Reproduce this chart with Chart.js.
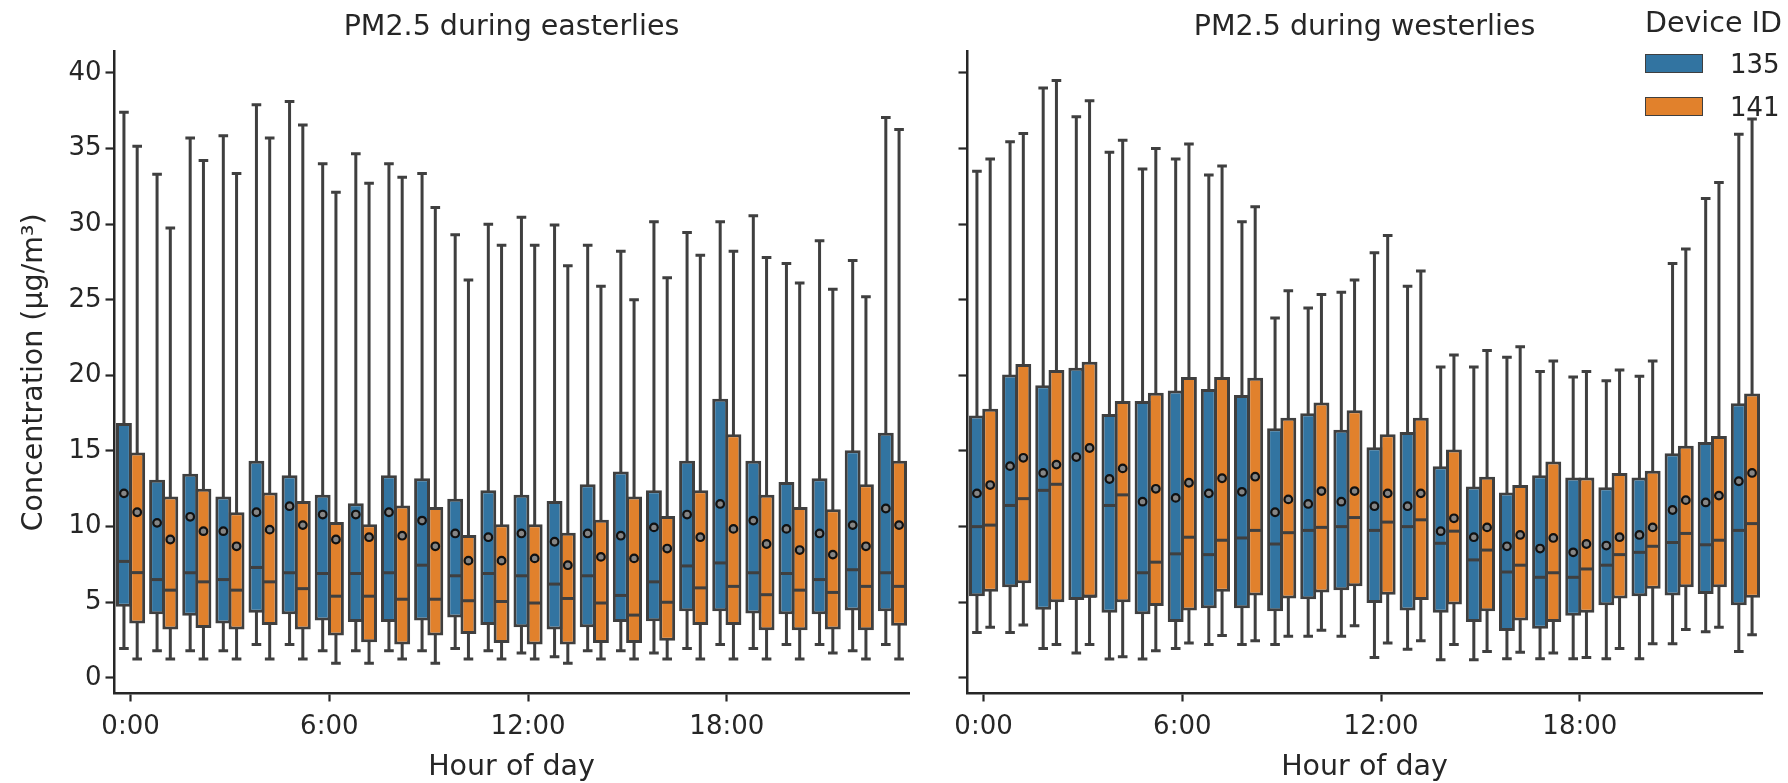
<!DOCTYPE html>
<html>
<head>
<meta charset="utf-8">
<script src="https://cdn.jsdelivr.net/npm/chart.js@4.4.1/dist/chart.umd.min.js"></script>
<style>
  body { margin: 0; background: #fff; }
  #wrap { position: relative; width: 1788px; height: 783px; font-family: 'DejaVu Sans', sans-serif; color: #262626; }
  canvas { position: absolute; top: 0; }
  #east { left: 0; }
  #west { left: 940px; }
  .lg { position: absolute; line-height: 1; white-space: nowrap; }
  .patch { position: absolute; left: 1645px; width: 58px; height: 19px; box-sizing: border-box; border: 1.5px solid #3f3f3f; }
</style>
</head>
<body>
<div id="wrap">
  <canvas id="east" width="940" height="783"></canvas>
  <canvas id="west" width="848" height="783"></canvas>
  <div class="lg" style="left:1645px;top:9px;font-size:28.5px">Device ID</div>
  <div class="patch" style="top:54px;background:#3274a1"></div>
  <div class="lg" style="left:1730px;top:51px;font-size:26px">135</div>
  <div class="patch" style="top:97px;background:#e1812c"></div>
  <div class="lg" style="left:1730px;top:94px;font-size:26px">141</div>
</div>
<script>
const hourLabels = ['0:00', '1:00', '2:00', '3:00', '4:00', '5:00', '6:00', '7:00', '8:00', '9:00', '10:00', '11:00',
  '12:00', '13:00', '14:00', '15:00', '16:00', '17:00', '18:00', '19:00', '20:00', '21:00', '22:00', '23:00'];
const labelHours = [0, 6, 12, 18];
const yTicks = [0, 5, 10, 15, 20, 25, 30, 35, 40];

// easterlies, device 135
const east135High = [37.4, 33.3, 35.7, 35.85, 37.9, 38.1, 34.0, 34.65, 34.0, 33.35, 29.3, 30.0, 30.45, 29.95, 28.6, 28.2, 30.15, 29.45, 30.15, 30.55, 27.4, 28.9, 27.6, 37.05];
const east135Q3 = [16.85, 13.1, 13.5, 12.0, 14.35, 13.4, 12.1, 11.55, 13.4, 13.2, 11.85, 12.4, 12.1, 11.7, 12.8, 13.65, 12.4, 14.35, 18.45, 14.35, 12.95, 13.2, 15.05, 16.2];
const east135Median = [7.7, 6.5, 6.95, 6.5, 7.3, 6.95, 6.9, 6.9, 6.95, 7.45, 6.75, 6.9, 6.75, 6.2, 6.75, 5.45, 6.35, 7.4, 7.6, 6.95, 6.9, 6.5, 7.15, 6.95];
const east135Mean = [12.2, 10.25, 10.65, 9.7, 10.95, 11.35, 10.8, 10.8, 10.95, 10.4, 9.55, 9.3, 9.55, 9.0, 9.55, 9.4, 9.95, 10.8, 11.5, 10.4, 9.85, 9.55, 10.1, 11.2];
const east135Q1 = [4.7, 4.2, 4.1, 3.6, 4.3, 4.2, 3.8, 3.7, 3.7, 3.8, 4.0, 3.5, 3.35, 3.2, 3.35, 3.7, 3.75, 4.4, 4.4, 4.25, 4.2, 4.2, 4.45, 4.4];
const east135Low = [1.95, 1.8, 1.8, 1.8, 2.2, 2.2, 1.8, 1.8, 1.8, 1.8, 1.95, 1.8, 1.65, 1.4, 1.8, 1.8, 1.65, 1.95, 2.2, 1.95, 2.2, 2.2, 1.8, 2.2];

// easterlies, device 141
const east141High = [35.15, 29.75, 34.2, 33.35, 35.7, 36.55, 32.1, 32.7, 33.1, 31.1, 26.3, 28.6, 28.6, 27.25, 25.9, 25.0, 26.45, 27.95, 28.2, 27.8, 26.1, 25.7, 25.2, 36.25];
const east141Q3 = [14.9, 12.0, 12.5, 10.95, 12.25, 11.7, 10.3, 10.15, 11.4, 11.3, 9.45, 10.15, 10.15, 9.6, 10.45, 12.0, 10.7, 12.4, 16.1, 12.1, 11.3, 11.15, 12.8, 14.35];
const east141Median = [6.96, 5.8, 6.35, 5.8, 6.35, 5.9, 5.4, 5.4, 5.2, 5.2, 5.1, 5.05, 4.95, 5.25, 4.95, 4.15, 5.0, 5.95, 6.05, 5.5, 5.8, 5.65, 6.05, 6.05];
const east141Mean = [10.95, 9.15, 9.7, 8.7, 9.8, 10.1, 9.15, 9.3, 9.4, 8.7, 7.75, 7.75, 7.9, 7.45, 8.0, 7.9, 8.55, 9.3, 9.85, 8.85, 8.45, 8.15, 8.7, 10.1];
const east141Q1 = [3.6, 3.2, 3.3, 3.2, 3.5, 3.2, 2.8, 2.35, 2.2, 2.8, 2.9, 2.3, 2.2, 2.2, 2.3, 2.3, 2.45, 3.5, 3.5, 3.15, 3.15, 3.2, 3.15, 3.45];
const east141Low = [1.25, 1.25, 1.25, 1.25, 1.25, 1.25, 0.97, 0.97, 1.25, 0.97, 1.25, 1.25, 1.25, 0.97, 1.25, 1.25, 1.25, 1.25, 1.25, 1.25, 1.25, 1.65, 1.25, 1.25];

// westerlies, device 135
const west135High = [33.5, 35.45, 39.0, 37.1, 34.75, 33.65, 34.3, 33.25, 30.15, 23.8, 24.45, 25.5, 28.1, 25.9, 20.55, 20.55, 21.2, 20.25, 19.9, 19.65, 19.95, 27.4, 31.7, 35.95];
const west135Q3 = [17.35, 20.05, 19.35, 20.5, 17.45, 18.3, 19.0, 19.1, 18.7, 16.5, 17.5, 16.4, 15.25, 16.25, 14.0, 12.65, 12.25, 13.4, 13.25, 12.6, 13.25, 14.85, 15.6, 18.15];
const west135Median = [10.0, 11.4, 12.4, 5.25, 11.4, 6.95, 8.2, 8.15, 9.25, 8.85, 9.75, 10.0, 9.75, 10.0, 8.9, 7.8, 7.0, 6.65, 6.65, 7.45, 8.3, 8.95, 8.8, 9.75];
const west135Mean = [12.2, 14.0, 13.55, 14.6, 13.15, 11.65, 11.9, 12.2, 12.3, 10.95, 11.5, 11.65, 11.35, 11.35, 9.7, 9.3, 8.7, 8.55, 8.3, 8.75, 9.45, 11.1, 11.6, 13.0];
const west135Q1 = [5.4, 6.0, 4.5, 5.15, 4.3, 4.2, 3.7, 4.6, 4.6, 4.4, 5.2, 5.8, 4.95, 4.45, 4.3, 3.7, 3.1, 3.25, 4.1, 4.8, 5.4, 5.45, 5.55, 4.8];
const west135Low = [3.0, 3.0, 1.95, 1.65, 1.25, 1.25, 1.95, 2.2, 2.2, 2.2, 2.75, 2.75, 1.35, 1.9, 1.2, 1.2, 1.27, 1.27, 1.27, 1.27, 1.27, 2.25, 3.05, 1.75];

// westerlies, device 141
const west141High = [34.3, 36.0, 39.5, 38.15, 35.55, 35.0, 35.3, 33.85, 31.15, 25.6, 25.35, 26.3, 29.25, 26.9, 21.35, 21.65, 21.9, 20.95, 20.25, 20.35, 20.95, 28.35, 32.75, 36.95];
const west141Q3 = [17.8, 20.75, 20.35, 20.9, 18.3, 18.85, 19.9, 19.9, 19.85, 17.2, 18.2, 17.7, 16.1, 17.2, 15.1, 13.3, 12.75, 14.3, 13.25, 13.55, 13.7, 15.35, 16.0, 18.8];
const west141Median = [10.1, 11.85, 12.8, 5.4, 12.1, 7.65, 9.3, 9.1, 9.75, 9.6, 9.95, 10.6, 10.3, 10.45, 9.7, 8.45, 7.45, 6.95, 7.2, 8.15, 8.7, 9.55, 9.1, 10.2];
const west141Mean = [12.75, 14.55, 14.1, 15.2, 13.85, 12.5, 12.9, 13.2, 13.3, 11.8, 12.35, 12.35, 12.2, 12.2, 10.55, 9.95, 9.45, 9.25, 8.85, 9.3, 9.95, 11.75, 12.05, 13.55];
const west141Q1 = [5.7, 6.25, 5.0, 5.3, 5.0, 4.75, 4.45, 5.7, 5.45, 5.25, 5.65, 6.05, 5.5, 5.15, 4.85, 4.4, 3.8, 3.7, 4.3, 5.25, 5.9, 6.0, 6.0, 5.3];
const west141Low = [3.35, 3.5, 2.2, 2.2, 1.4, 1.8, 2.3, 2.8, 2.45, 2.75, 3.15, 3.45, 2.3, 2.45, 2.2, 1.75, 1.7, 1.65, 1.35, 1.95, 2.25, 3.2, 3.35, 2.85];

const BLUE = '#3274a1';
const ORANGE = '#e1812c';
const EDGE = '#3f3f3f';
const AXIS = '#262626';
const TEXT = '#262626';
const LINE_W = 3;

Chart.defaults.font.family = "'DejaVu Sans', sans-serif";

// whiskers, caps, medians and means on top of the q1-q3 bars
const boxExtras = {
  id: 'boxExtras',
  afterDatasetsDraw(chart) {
    const ctx = chart.ctx;
    const x = chart.scales.x;
    const y = chart.scales.y;
    const capHalf = (x.getPixelForValue(1) - x.getPixelForValue(0)) * 0.1;
    ctx.save();
    chart.data.datasets.forEach((ds, i) => {
      const meta = chart.getDatasetMeta(i);
      meta.data.forEach((bar, j) => {
        const cx = bar.x;
        const half = bar.width / 2 - LINE_W / 2;
        const yHigh = y.getPixelForValue(ds.high[j]);
        const yLow = y.getPixelForValue(ds.low[j]);
        ctx.strokeStyle = EDGE;
        ctx.lineWidth = LINE_W;
        ctx.lineCap = 'square';
        ctx.beginPath();
        ctx.moveTo(cx, y.getPixelForValue(ds.q3[j]));
        ctx.lineTo(cx, yHigh);
        ctx.moveTo(cx, y.getPixelForValue(ds.q1[j]));
        ctx.lineTo(cx, yLow);
        ctx.moveTo(cx - capHalf, yHigh);
        ctx.lineTo(cx + capHalf, yHigh);
        ctx.moveTo(cx - capHalf, yLow);
        ctx.lineTo(cx + capHalf, yLow);
        ctx.stroke();

        const yMed = y.getPixelForValue(ds.median[j]);
        ctx.lineCap = 'butt';
        ctx.beginPath();
        ctx.moveTo(cx - half, yMed);
        ctx.lineTo(cx + half, yMed);
        ctx.stroke();

        ctx.beginPath();
        ctx.arc(cx, y.getPixelForValue(ds.mean[j]), 3.8, 0, Math.PI * 2);
        ctx.fillStyle = '#858585';
        ctx.fill();
        ctx.lineWidth = 2.2;
        ctx.strokeStyle = '#111';
        ctx.stroke();
      });
    });
    ctx.restore();
  }
};

function makeChart(id, title, series, showY, yWidth, rightPad) {
  return new Chart(document.getElementById(id), {
    type: 'bar',
    data: {
      labels: hourLabels,
      datasets: series.map(s => ({
        label: s.label,
        data: s.q1.map((v, j) => [v, s.q3[j]]),
        backgroundColor: s.color,
        borderColor: EDGE,
        borderWidth: LINE_W,
        borderSkipped: false,
        categoryPercentage: 0.8,
        barPercentage: 1.2,
        low: s.low, q1: s.q1, median: s.median, q3: s.q3, high: s.high, mean: s.mean
      }))
    },
    options: {
      responsive: false,
      animation: false,
      layout: { padding: { left: 0, right: rightPad, top: 0, bottom: 0 } },
      plugins: {
        legend: { display: false },
        tooltip: { enabled: false },
        title: {
          display: true, text: title, fullSize: false, color: TEXT,
          font: { size: 28.5, weight: 'normal' },
          padding: { top: 10.5, bottom: 7 }
        }
      },
      scales: {
        x: {
          offset: true,
          grid: { display: true, offset: false, drawOnChartArea: false, drawTicks: true, tickLength: 8.5, tickWidth: 2.2, tickColor: AXIS },
          border: { display: true, color: AXIS, width: 2.5 },
          ticks: { color: TEXT, font: { size: 26 }, padding: 10, maxRotation: 0, autoSkip: false },
          afterBuildTicks: s => { s.ticks = labelHours.map(v => ({ value: v })); },
          afterFit: s => { s.height = 90; },
          title: { display: true, text: 'Hour of day', color: TEXT, font: { size: 28.5, lineHeight: 1.05 }, padding: { top: 0, bottom: 0 } }
        },
        y: {
          min: -1.0,
          max: 41.4,
          grid: { display: true, drawOnChartArea: false, drawTicks: true, tickLength: 8.5, tickWidth: 2.2, tickColor: AXIS },
          border: { display: true, color: AXIS, width: 2.5 },
          ticks: { display: showY, color: TEXT, font: { size: 26 }, padding: 4 },
          afterBuildTicks: s => { s.ticks = yTicks.map(v => ({ value: v })); },
          afterFit: s => { s.width = yWidth; },
          title: { display: showY, text: 'Concentration (µg/m³)', color: TEXT, font: { size: 28.5 }, padding: { top: 17, bottom: 0 } }
        }
      }
    },
    plugins: [boxExtras]
  });
}

makeChart('east', 'PM2.5 during easterlies', [
  { label: '135', color: BLUE, low: east135Low, q1: east135Q1, median: east135Median, q3: east135Q3, high: east135High, mean: east135Mean },
  { label: '141', color: ORANGE, low: east141Low, q1: east141Q1, median: east141Median, q3: east141Q3, high: east141High, mean: east141Mean }
], true, 114, 31);

makeChart('west', 'PM2.5 during westerlies', [
  { label: '135', color: BLUE, low: west135Low, q1: west135Q1, median: west135Median, q3: west135Q3, high: west135High, mean: west135Mean },
  { label: '141', color: ORANGE, low: west141Low, q1: west141Q1, median: west141Median, q3: west141Q3, high: west141High, mean: west141Mean }
], false, 27, 26);
</script>
</body>
</html>
